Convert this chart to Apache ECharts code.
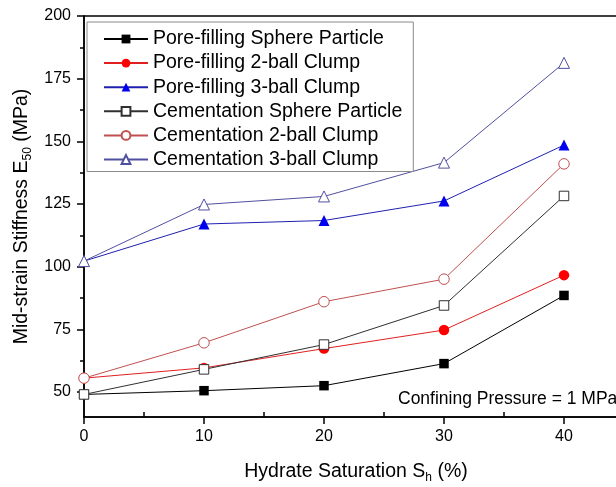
<!DOCTYPE html>
<html>
<head>
<meta charset="utf-8">
<script src="https://cdn.jsdelivr.net/npm/echarts@6/dist/echarts.min.js"></script>
<style>
  html, body { margin: 0; padding: 0; background: #fff; }
  #chart { width: 616px; height: 487px; }
</style>
</head>
<body>
<div id="chart"></div>
<script>
// Hydrate saturation (%) on the x axis
const saturation = [0, 10, 20, 30, 40];

// Mid-strain stiffness E50 (MPa) for each particle model
const poreSphere = [49.0, 50.5, 52.5, 61.3, 88.5];
const pore2Ball  = [55.5, 59.6, 67.3, 74.7, 96.6];
const pore3Ball  = [102.2, 117.0, 118.4, 126.2, 148.5];
const cemSphere  = [49.0, 59.0, 68.9, 84.5, 128.2];
const cem2Ball   = [55.5, 69.6, 86.0, 95.0, 141.0];
const cem3Ball   = [102.2, 124.8, 128.0, 141.5, 181.3];

const seriesNames = [
  'Pore-filling Sphere Particle',
  'Pore-filling 2-ball Clump',
  'Pore-filling 3-ball Clump',
  'Cementation Sphere Particle',
  'Cementation 2-ball Clump',
  'Cementation 3-ball Clump'
];

// Axis tick values
const yTickValues  = [50, 75, 100, 125, 150, 175, 200];
const yMinorValues = [62.5, 87.5, 112.5, 137.5, 162.5, 187.5];
const xMinorValues = [5, 15, 25, 35, 45];

const FONT = 'Liberation Sans, Arial, sans-serif';

function pairs(values) {
  return saturation.map((x, i) => [x, values[i]]);
}

// Filled marker series (pore-filling)
function filledSeries(name, values, symbol, size, color, lineColor) {
  return {
    name: name,
    type: 'line',
    data: pairs(values),
    symbol: symbol,
    symbolSize: size,
    itemStyle: { color: color, borderWidth: 0 },
    lineStyle: { color: lineColor, width: 1 },
    emphasis: { disabled: true },
    animation: false
  };
}

// Hollow marker series (cementation): white fill, thin coloured outline
function hollowSeries(name, values, symbol, size, color) {
  return {
    name: name,
    type: 'line',
    data: pairs(values),
    symbol: symbol,
    symbolSize: size,
    itemStyle: { color: '#ffffff', borderColor: color, borderWidth: 1 },
    lineStyle: { color: color, width: 1 },
    emphasis: { disabled: true },
    animation: false
  };
}

const chart = echarts.init(document.getElementById('chart'), null, { renderer: 'canvas' });

chart.setOption({
  backgroundColor: '#fff',
  animation: false,
  grid: {
    left: 84, top: 16, bottom: 70, right: -68,
    outerBoundsMode: 'none', containLabel: false,
    show: true, borderColor: '#000', borderWidth: 1.5, backgroundColor: 'transparent'
  },
  legend: {
    orient: 'vertical',
    left: 87, top: 22,
    padding: [7, 11, 2, 16],
    itemWidth: 44, itemHeight: 11, itemGap: 4.1,
    borderColor: '#8a8a8a', borderWidth: 1,
    textStyle: { fontSize: 19.5, color: '#000', fontFamily: FONT },
    data: seriesNames
  },
  xAxis: [
    {
      type: 'value', min: 0, max: 50, interval: 10, position: 'bottom',
      axisLine: { show: true, lineStyle: { color: '#000', width: 1.5 } },
      axisTick: { show: true, inside: false, length: 7, lineStyle: { color: '#000', width: 1.5 } },
      axisLabel: { color: '#000', fontSize: 16, margin: 12, fontFamily: FONT },
      splitLine: { show: false },
      name: 'Hydrate Saturation S{sub|h} (%)',
      nameLocation: 'middle', nameGap: 43,
      nameTextStyle: {
        fontSize: 19.5, color: '#000', fontFamily: FONT, padding: [0, 56, 0, 0],
        rich: { sub: { fontSize: 12, color: '#000', fontFamily: FONT, padding: [12, 0, 0, 0] } }
      }
    },
    {
      type: 'value', min: 0, max: 50, position: 'bottom',
      axisLine: { show: false },
      axisTick: { show: true, inside: true, length: 5, customValues: xMinorValues, lineStyle: { color: '#000', width: 1.5 } },
      axisLabel: { show: false },
      splitLine: { show: false }
    }
  ],
  yAxis: [
    {
      type: 'value', min: 40, max: 200, position: 'left',
      axisLine: { show: true, lineStyle: { color: '#000', width: 1.5 } },
      axisTick: { show: true, inside: false, length: 7, customValues: yTickValues, lineStyle: { color: '#000', width: 1.5 } },
      axisLabel: { color: '#000', fontSize: 16, margin: 13, fontFamily: FONT, customValues: yTickValues },
      splitLine: { show: false },
      name: 'Mid-strain Stiffness E{sub|50} (MPa)',
      nameLocation: 'middle', nameGap: 45, nameRotate: 90,
      nameTextStyle: {
        fontSize: 19.5, color: '#000', fontFamily: FONT,
        rich: { sub: { fontSize: 12, color: '#000', fontFamily: FONT, padding: [12, 0, 0, 0] } }
      }
    },
    {
      type: 'value', min: 40, max: 200, position: 'left',
      axisLine: { show: false },
      axisTick: { show: true, inside: false, length: 4, customValues: yMinorValues, lineStyle: { color: '#000', width: 1.5 } },
      axisLabel: { show: false },
      splitLine: { show: false }
    }
  ],
  graphic: [
    {
      type: 'text', left: 398, top: 390, silent: true,
      style: { text: 'Confining Pressure = 1 MPa', fontSize: 17.5, fill: '#000', fontFamily: FONT }
    }
  ],
  series: [
    filledSeries(seriesNames[0], poreSphere, 'rect', 9.5, '#000000', '#000000'),
    filledSeries(seriesNames[1], pore2Ball, 'circle', 10.5, '#ff0000', '#e02020'),
    filledSeries(seriesNames[2], pore3Ball, 'triangle', 11, '#0000ee', '#2020b0'),
    hollowSeries(seriesNames[3], cemSphere, 'rect', 9.5, '#303030'),
    hollowSeries(seriesNames[4], cem2Ball, 'circle', 10.5, '#c05050'),
    hollowSeries(seriesNames[5], cem3Ball, 'triangle', 11, '#5050a0')
  ]
});
</script>
</body>
</html>
